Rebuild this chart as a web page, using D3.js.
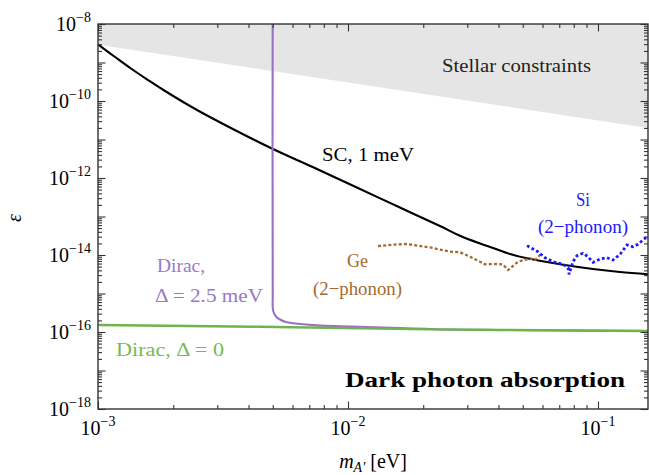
<!DOCTYPE html>
<html><head><meta charset="utf-8">
<script src="https://cdn.jsdelivr.net/npm/d3@7"></script>
<style>body{margin:0;background:#fff}svg{display:block}text{font-family:"Liberation Serif","Times New Roman",serif}</style>
</head><body><svg id="c" width="649" height="475"></svg>
<script>
// ---------- data ----------
const stellarMass = [1.0e-3, 0.1585];
const stellarEps  = [2.9e-9, 2.0e-11];

const scMass = [1.0e-3, 1.17e-3, 1.355e-3, 1.585e-3, 1.854e-3, 2.51e-3, 3.40e-3, 5.01e-3, 7.59e-3, 1.096e-2, 1.614e-2, 2.333e-2, 2.805e-2, 3.373e-2, 3.80e-2, 4.446e-2, 5.20e-2, 7.05e-2, 9.55e-2, 0.1225, 0.1585];
const scEps  = [2.94e-9, 1.39e-9, 6.98e-10, 3.51e-10, 1.82e-10, 5.66e-11, 1.99e-11, 5.66e-12, 1.66e-12, 5.50e-13, 1.71e-13, 5.66e-14, 3.17e-14, 1.99e-14, 1.52e-14, 1.06e-14, 8.20e-15, 5.73e-15, 4.32e-15, 3.61e-15, 3.15e-15];

const diracGapMass = [5.00e-3, 5.00e-3, 5.02e-3, 5.15e-3, 5.35e-3, 5.60e-3, 6.03e-3, 7.50e-3, 1.19e-2, 1.61e-2, 2.56e-2, 4.06e-2, 0.1585];
const diracGapEps  = [1e-7, 1e-15, 3.51e-16, 2.53e-16, 2.11e-16, 1.84e-16, 1.68e-16, 1.49e-16, 1.35e-16, 1.27e-16, 1.16e-16, 1.13e-16, 1.06e-16];

const diracMass = [1.0e-3, 4.45e-3, 2.13e-2, 4.06e-2, 0.1585];
const diracEps  = [1.52e-16, 1.37e-16, 1.17e-16, 1.13e-16, 1.06e-16];

const geMass = [1.318e-2, 1.542e-2, 1.722e-2, 2.13e-2, 2.56e-2, 2.805e-2, 3.08e-2, 3.53e-2, 3.94e-2, 4.17e-2, 4.37e-2, 4.79e-2, 5.35e-2, 5.60e-2, 5.97e-2];
const geEps  = [1.71e-14, 1.87e-14, 1.93e-14, 1.57e-14, 1.22e-14, 1.18e-14, 9.03e-15, 5.73e-15, 5.83e-15, 5.66e-15, 4.07e-15, 6.70e-15, 8.20e-15, 7.41e-15, 1.13e-14];

const siMass = [5.20e-2, 5.75e-2, 6.14e-2, 6.61e-2, 7.24e-2, 7.59e-2, 7.66e-2, 7.94e-2, 8.24e-2, 8.71e-2, 9.12e-2, 9.55e-2, 0.1019, 0.1086, 0.1148, 0.1225, 0.1306, 0.1380, 0.1445, 0.1542, 0.1614];
const siEps  = [1.75e-14, 1.22e-14, 8.51e-15, 6.70e-15, 5.73e-15, 4.68e-15, 3.15e-15, 6.70e-15, 9.59e-15, 1.11e-14, 9.03e-15, 6.46e-15, 7.87e-15, 8.51e-15, 7.41e-15, 1.04e-14, 1.82e-14, 1.64e-14, 1.90e-14, 2.72e-14, 2.99e-14];

const xTickValues = [1e-3, 1e-2, 1e-1];
const xTickExps   = ["−3", "−2", "−1"];
const yTickValues = [1e-8, 1e-10, 1e-12, 1e-14, 1e-16, 1e-18];
const yTickExps   = ["−8", "−10", "−12", "−14", "−16", "−18"];

// ---------- layout ----------
const L = 98, R = 648, T = 24, B = 409;
const svg = d3.select("#c");
const x = d3.scaleLog().domain([1e-3, 0.1585]).range([L, R]);
const y = d3.scaleLog().domain([1e-18, 1e-8]).range([B, T]);

svg.append("defs").append("clipPath").attr("id", "clip")
  .append("rect").attr("x", L).attr("y", T).attr("width", R - L).attr("height", B - T);
const plot = svg.append("g").attr("clip-path", "url(#clip)");

const zip = (a, b) => a.map((v, i) => [v, b[i]]);

// stellar constraints region
plot.append("path")
  .datum(zip(stellarMass, stellarEps))
  .attr("fill", "#e5e5e5")
  .attr("d", d3.area().x(d => x(d[0])).y0(y(1e-8)).y1(d => y(d[1])));

const lineSmooth = d3.line().x(d => x(d[0])).y(d => y(d[1])).curve(d3.curveCatmullRom.alpha(0.5));
const lineLin = d3.line().x(d => x(d[0])).y(d => y(d[1]));

plot.append("path").datum(zip(scMass, scEps)).attr("d", lineSmooth)
  .attr("fill", "none").attr("stroke", "#000").attr("stroke-width", 2.1);
plot.append("path").datum(zip(diracGapMass, diracGapEps)).attr("d", lineSmooth)
  .attr("fill", "none").attr("stroke", "#9a70c6").attr("stroke-width", 2.1);
plot.append("path").datum(zip(diracMass, diracEps)).attr("d", lineLin)
  .attr("fill", "none").attr("stroke", "#6cb44b").attr("stroke-width", 2.4);
plot.append("path").datum(zip(geMass, geEps)).attr("d", lineLin)
  .attr("fill", "none").attr("stroke", "#a5692f").attr("stroke-width", 2.3)
  .attr("stroke-dasharray", "3,2.2");
plot.append("path").datum(zip(siMass, siEps)).attr("d", lineLin)
  .attr("fill", "none").attr("stroke", "#1a1aff").attr("stroke-width", 2.8)
  .attr("stroke-dasharray", "2.8,2.4");

// ---------- axes / ticks ----------
const axisCol = "#333";
const yMajor = d3.range(-18, -7).map(e => Math.pow(10, e));
const yMinor = d3.range(-18, -8).flatMap(e => d3.range(2, 10).map(k => k * Math.pow(10, e)));
const xMajor = xTickValues;
const xMinor = d3.range(-3, 0).flatMap(e => d3.range(2, 10).map(k => k * Math.pow(10, e))).filter(v => v <= 0.1585);

function addAxis(gen, tr, vals, size) {
  const g = svg.append("g").attr("transform", tr)
    .call(gen.tickValues(vals).tickSize(-size).tickFormat(""));
  g.select(".domain").remove();
  g.selectAll("line").attr("stroke", axisCol).attr("stroke-width", 1.1);
}
addAxis(d3.axisBottom(x), `translate(0,${B})`, xMajor, 7.5);
addAxis(d3.axisBottom(x), `translate(0,${B})`, xMinor, 4);
addAxis(d3.axisTop(x), `translate(0,${T})`, xMajor, 7.5);
addAxis(d3.axisTop(x), `translate(0,${T})`, xMinor, 4);
addAxis(d3.axisLeft(y), `translate(${L},0)`, yMajor, 7.5);
addAxis(d3.axisLeft(y), `translate(${L},0)`, yMinor, 4);
addAxis(d3.axisRight(y), `translate(${R},0)`, yMajor, 7.5);
addAxis(d3.axisRight(y), `translate(${R},0)`, yMinor, 4);

svg.append("rect").attr("x", L).attr("y", T).attr("width", R - L).attr("height", B - T)
  .attr("fill", "none").attr("stroke", axisCol).attr("stroke-width", 1.4);

// tick labels
xTickValues.forEach((v, i) => {
  const t = svg.append("text").attr("x", x(v)).attr("y", 435)
    .attr("text-anchor", "middle").attr("font-size", 20).attr("fill", "#000");
  t.append("tspan").text("10");
  t.append("tspan").attr("dy", -9).attr("font-size", 14).text(xTickExps[i]);
});
yTickValues.forEach((v, i) => {
  const t = svg.append("text").attr("x", 91).attr("y", y(v) + 7)
    .attr("text-anchor", "end").attr("font-size", 20).attr("fill", "#000");
  t.append("tspan").text("10");
  t.append("tspan").attr("dy", -9).attr("font-size", 14).text(yTickExps[i]);
});

// axis titles
const xl = svg.append("text").attr("x", 373).attr("y", 468).attr("text-anchor", "middle")
  .attr("font-size", 20).attr("fill", "#000");
xl.append("tspan").attr("font-style", "italic").text("m");
xl.append("tspan").attr("font-style", "italic").attr("font-size", 14).attr("dy", 4).text("A′");
xl.append("tspan").attr("dy", -4).text(" [eV]");

svg.append("text").attr("transform", "translate(21,218) rotate(-90)")
  .attr("text-anchor", "middle").attr("font-size", 20).attr("font-style", "italic").text("ε");

// annotations
function label(txt, x0, y0, col, w, opts = {}) {
  const t = svg.append("text").attr("x", x0).attr("y", y0).attr("fill", col)
    .attr("font-size", opts.size || 19).text(txt);
  if (opts.bold) t.attr("font-weight", "bold");
  if (w) t.attr("textLength", w).attr("lengthAdjust", "spacingAndGlyphs");
  return t;
}
label("Stellar constraints", 442, 72, "#222", 149);
label("SC,  1 meV", 322, 161, "#000", 92);
label("Dirac,", 157, 272, "#9a78c8", 48);
label("Δ = 2.5 meV", 155, 302, "#9a78c8", 108);
label("Dirac,  Δ = 0", 116, 356, "#74bb54", 108);
label("Ge", 347, 267, "#a5692f", 21);
label("(2−phonon)", 313, 295, "#a5692f", 89);
label("Si", 576, 206, "#1a1aff", 14);
label("(2−phonon)", 538, 233, "#1a1aff", 90);
label("Dark photon absorption", 345, 387, "#000", 280, {bold: true, size: 20});
</script>
</body></html>
